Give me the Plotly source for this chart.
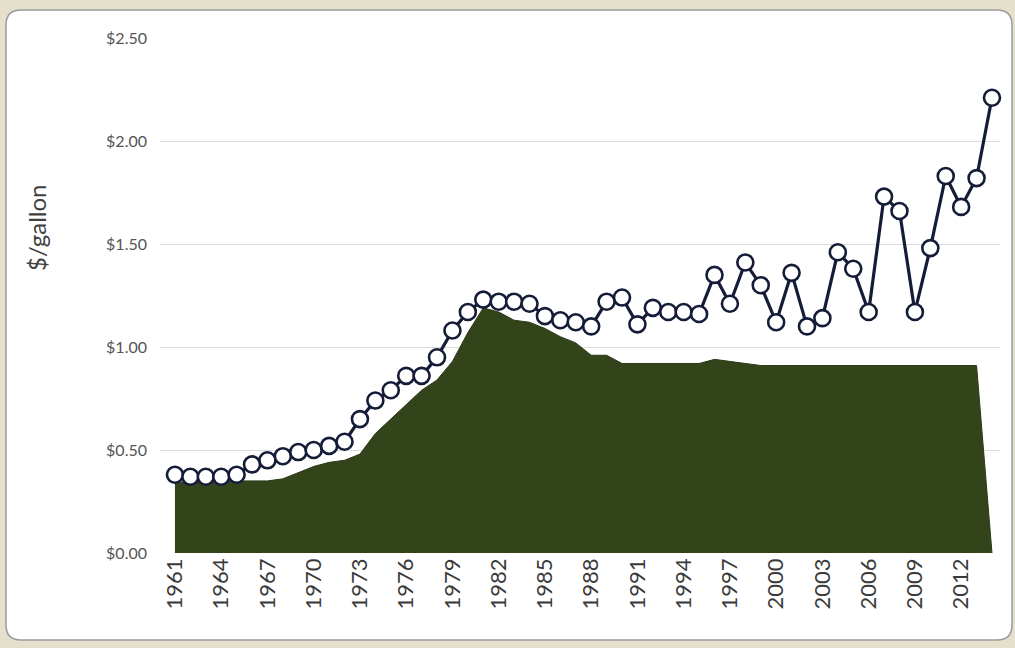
import plotly.graph_objects as go

years = list(range(1961, 2015))

price = [0.38, 0.37, 0.37, 0.37, 0.38, 0.43, 0.45, 0.47, 0.49, 0.50,
         0.52, 0.54, 0.65, 0.74, 0.79, 0.86, 0.86, 0.95, 1.08, 1.17,
         1.23, 1.22, 1.22, 1.21, 1.15, 1.13, 1.12, 1.10, 1.22, 1.24,
         1.11, 1.19, 1.17, 1.17, 1.16, 1.35, 1.21, 1.41, 1.30, 1.12,
         1.36, 1.10, 1.14, 1.46, 1.38, 1.17, 1.73, 1.66, 1.17, 1.48,
         1.83, 1.68, 1.82, 2.21]

base = [0.34, 0.35, 0.35, 0.35, 0.35, 0.35, 0.35, 0.36, 0.39, 0.42,
        0.44, 0.45, 0.48, 0.58, 0.65, 0.72, 0.79, 0.84, 0.93, 1.07,
        1.19, 1.17, 1.13, 1.12, 1.09, 1.05, 1.02, 0.96, 0.96, 0.92,
        0.92, 0.92, 0.92, 0.92, 0.92, 0.94, 0.93, 0.92, 0.91, 0.91,
        0.91, 0.91, 0.91, 0.91, 0.91, 0.91, 0.91, 0.91, 0.91, 0.91,
        0.91, 0.91, 0.91, 0.0]

tick_years = list(range(1961, 2013, 3))
y_ticks = [0, 0.5, 1.0, 1.5, 2.0, 2.5]
y_labels = ["$0.00", "$0.50", "$1.00", "$1.50", "$2.00", "$2.50"]
y_title = "$/gallon"

W, H = 1015, 648
ML, MR, MT, MB = 160, 15, 38, 95
PW, PH = W - ML - MR, H - MT - MB

fig = go.Figure()
fig.add_trace(go.Scatter(
    x=years, y=base, mode="lines", fill="tozeroy",
    fillcolor="#33441b", line=dict(color="#2c3a17", width=1),
    hoverinfo="skip", showlegend=False))
fig.add_trace(go.Scatter(
    x=years, y=price, mode="lines+markers",
    line=dict(color="#141c38", width=3.2),
    marker=dict(size=16, color="white", line=dict(color="#141c38", width=2.6)),
    cliponaxis=False, showlegend=False))

# pixel -> plot-paper coords
def px(x):
    return (x - ML) / PW

def py(y):
    return (H - MB - y) / PH

cl, ct, cr, cb, rad = 6, 10, 1012, 640, 15
rx, ry = rad / PW, rad / PH
x0, x1, y0, y1 = px(cl), px(cr), py(ct), py(cb)
path = (f"M {x0+rx},{y0} L {x1-rx},{y0} Q {x1},{y0} {x1},{y0-ry} "
        f"L {x1},{y1+ry} Q {x1},{y1} {x1-rx},{y1} L {x0+rx},{y1} "
        f"Q {x0},{y1} {x0},{y1+ry} L {x0},{y0-ry} Q {x0},{y0} {x0+rx},{y0} Z")

fig.update_layout(
    width=W, height=H,
    margin=dict(l=ML, r=MR, t=MT, b=MB, autoexpand=False),
    paper_bgcolor="#e4e0cc", plot_bgcolor="rgba(0,0,0,0)",
    font=dict(family="Lato, Open Sans, sans-serif", color="#404040"),
    shapes=[dict(type="path", path=path, xref="paper", yref="paper",
                 fillcolor="white", line=dict(color="#9a9a9a", width=1.5),
                 layer="below")],
    annotations=[dict(text=y_title, xref="paper", yref="paper",
                      x=px(37), y=py(228), textangle=-90, showarrow=False,
                      xanchor="center", yanchor="middle",
                      font=dict(size=24, color="#404040"))],
    xaxis=dict(range=[1960.03, 2014.52], tickmode="array", tickvals=tick_years,
               ticktext=[str(y) for y in tick_years], tickangle=-90,
               tickfont=dict(size=22, color="#3a3a3a"), showgrid=False,
               zeroline=False, showline=False, ticks="", automargin=False),
    yaxis=dict(range=[0, 2.5], tickmode="array", tickvals=y_ticks,
               ticktext=y_labels, tickfont=dict(size=16, color="#555555"),
               showgrid=True, gridcolor="#dcdcdc", gridwidth=1,
               zeroline=False, showline=False, ticks="", ticklabelstandoff=12,
               automargin=False),
)

fig.write_html("out.html", post_script="document.body.style.margin='0';",
               config={"displayModeBar": False})
